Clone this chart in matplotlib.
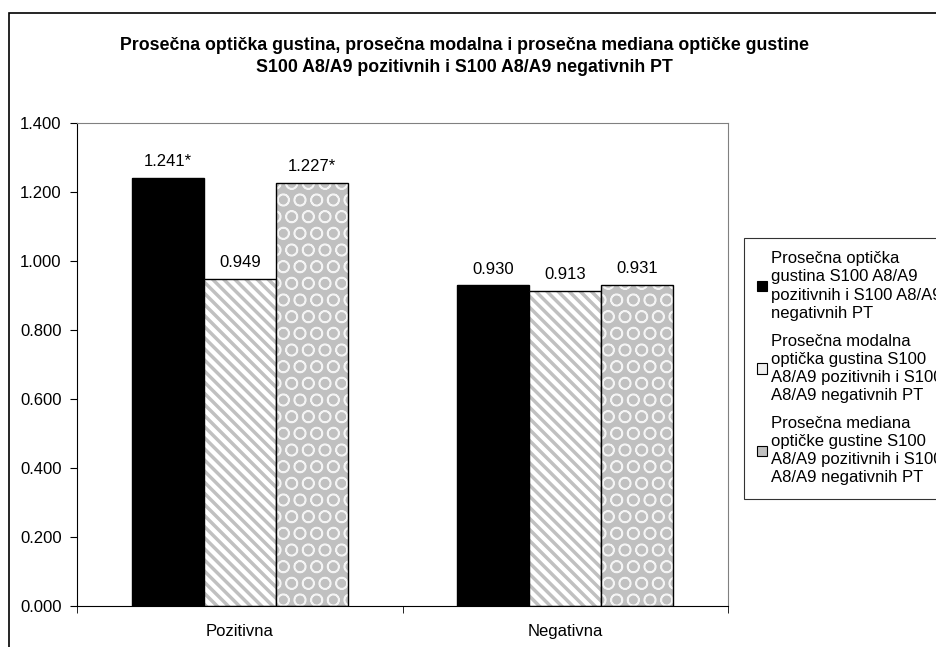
import numpy as np
import matplotlib.pyplot as plt
from matplotlib.patches import Patch, Rectangle

plt.rcParams['font.family'] = ['Liberation Sans', 'DejaVu Sans']
plt.rcParams['hatch.linewidth'] = 2.5

# podaci
categories = ["Pozitivna", "Negativna"]
prosecna = [1.241, 0.930]
modalna = [0.949, 0.913]
mediana = [1.227, 0.931]
labels_prosecna = ["1.241*", "0.930"]
labels_modalna = ["0.949", "0.913"]
labels_mediana = ["1.227*", "0.931"]
series_names = [
    "Prosečna optička\ngustina S100 A8/A9\npozitivnih i S100 A8/A9\nnegativnih PT",
    "Prosečna modalna\noptička gustina S100\nA8/A9 pozitivnih i S100\nA8/A9 negativnih PT",
    "Prosečna mediana\noptičke gustine S100\nA8/A9 pozitivnih i S100\nA8/A9 negativnih PT",
]

W, H = 936, 647
fs = 12
fig = plt.figure(figsize=(W / 100, H / 100), dpi=100)
ax = fig.add_axes([77 / W, (H - 606) / H, (728 - 77) / W, (606 - 123) / H])

# okvir grafikona
fig.patches.append(Rectangle((9 / W, -0.1), 1.2, (H - 13) / H + 0.1,
                             transform=fig.transFigure, fill=False,
                             edgecolor="black", linewidth=1.2))

x = np.arange(len(categories))
w = 0.221

# stil: (boja pozadine, hatch, boja hatch-a, debljina hatch linije)
styles = [("black", None, "black", 2.5),
          ("white", "\\\\\\", "#c0c0c0", 2.5),
          ("#c0c0c0", "O", "#f4f4f4", 1.1)]
series = [prosecna, modalna, mediana]
bar_labels = [labels_prosecna, labels_modalna, labels_mediana]

for i, (vals, (fc, hatch, hc, hlw), lbls) in enumerate(zip(series, styles, bar_labels)):
    pos = x + (i - 1) * w
    with plt.rc_context({"hatch.linewidth": hlw}):
        ax.bar(pos, vals, w, color=fc, hatch=hatch, edgecolor=hc, linewidth=0)
    ax.bar(pos, vals, w, fill=False, edgecolor="black", linewidth=1)
    for p, v, t in zip(pos, vals, lbls):
        ax.text(p, v + 0.025, t, ha="center", va="bottom", fontsize=fs)

ax.set_xlim(-0.5, 1.5)
ax.set_ylim(0, 1.4)
ax.set_yticks(np.arange(0, 1.41, 0.2))
ax.set_yticklabels([f"{v:.3f}" for v in np.arange(0, 1.41, 0.2)], fontsize=fs)
ax.set_xticks(x)
ax.set_xticklabels(categories, fontsize=fs)
ax.set_xticks([-0.5, 0.5, 1.5], minor=True)
ax.tick_params(axis="x", which="major", length=0, pad=13)
ax.tick_params(axis="x", which="minor", length=5, direction="out")
ax.tick_params(axis="y", length=5, direction="out", pad=6)

ax.spines["top"].set_color("#808080")
ax.spines["right"].set_color("#808080")
ax.spines["left"].set_color("black")
ax.spines["bottom"].set_color("black")

fig.text(464 / W, (H - 45) / H, "Prosečna optička gustina, prosečna modalna i prosečna mediana optičke gustine",
         ha="center", va="center", fontsize=12.8, fontweight="bold")
fig.text(464 / W, (H - 67) / H, "S100 A8/A9 pozitivnih i S100 A8/A9 negativnih PT",
         ha="center", va="center", fontsize=12.8, fontweight="bold")

handles = []
for fc, hatch, hc, hlw in styles:
    handles.append(Patch(facecolor=fc if fc != "white" else "#f0f0f0",
                         edgecolor="black", linewidth=0.8))
leg = fig.legend(handles, series_names, loc="upper left",
                 bbox_to_anchor=(744 / W, (H - 238) / H),
                 fontsize=fs, frameon=True, fancybox=False,
                 edgecolor="black", handlelength=0.6, handleheight=0.6,
                 handletextpad=0.2, labelspacing=0.78, borderpad=0.8,
                 borderaxespad=0)
leg.get_frame().set_linewidth(0.8)
for t in leg.get_texts():
    t.set_linespacing(1.26)

fig.savefig("out.png", dpi=100)
